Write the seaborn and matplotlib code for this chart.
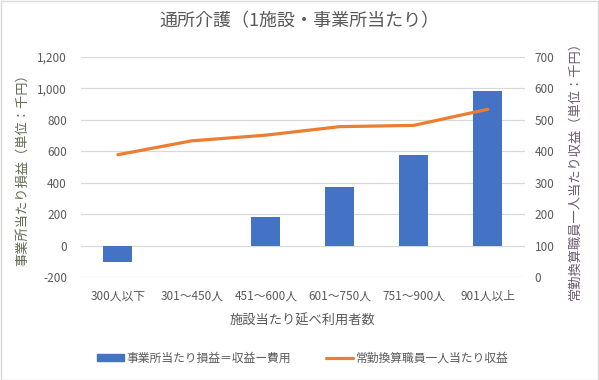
import matplotlib
matplotlib.use("Agg")
import matplotlib.pyplot as plt
import matplotlib.patches as mpatches
import matplotlib.lines as mlines
import pandas as pd
import seaborn as sns

# data
categories = ["300人以下", "301～450人", "451～600人", "601～750人", "751～900人", "901人以上"]
profit = [-100, 0, 185, 375, 578, 980]          # 事業所当たり損益（千円）
revenue_per_staff = [389, 433, 451, 478, 482, 533]  # 常勤換算職員一人当たり収益（千円）
left_ticks = [-200, 0, 200, 400, 600, 800, 1000, 1200]
right_ticks = [0, 100, 200, 300, 400, 500, 600, 700]

sns.set_theme(style="white")
plt.rcParams['font.family'] = ['Noto Sans CJK JP', 'DejaVu Sans']

BLUE = "#4472C4"
ORANGE = "#ED7D31"
GREY = "#595959"
GRID = "#d9d9d9"

df = pd.DataFrame({"cat": categories, "profit": profit, "rev": revenue_per_staff})

fig, ax = plt.subplots(figsize=(5.99, 3.80), dpi=100)
fig.subplots_adjust(left=0.135, right=0.876, top=0.851, bottom=0.270)

sns.barplot(data=df, x="cat", y="profit", color=BLUE, width=0.39, saturation=1,
            linewidth=0, ax=ax, zorder=3)
ax.set_ylim(-200, 1200)
ax.set_yticks(left_ticks)
ax.set_yticklabels([f"{v:,}" for v in left_ticks])
ax.set_xlim(-0.5, len(categories) - 0.5)
ax.grid(axis="y", color=GRID, lw=0.9, zorder=0)
ax.set_axisbelow(True)

ax2 = ax.twinx()
sns.lineplot(x=list(range(len(categories))), y=revenue_per_staff, color=ORANGE, lw=2.3, ax=ax2, zorder=4)
ax2.set_ylim(0, 700)
ax2.set_yticks(right_ticks)
ax2.set_xlim(-0.5, len(categories) - 0.5)

for a in (ax, ax2):
    for s in a.spines.values():
        s.set_visible(False)
    a.tick_params(axis="both", length=0, labelsize=8.5, colors=GREY, pad=7)

ax.tick_params(axis="x", pad=9)
ax.tick_params(axis="y", pad=10)
ax2.tick_params(axis="y", pad=7)

ax.set_xlabel("施設当たり延べ利用者数", color=GREY, fontsize=9.5, labelpad=8)
ax.set_ylabel("事業所当たり損益（単位：千円）", color="#5f6b4f", fontsize=9.5, labelpad=6)
ax2.set_ylabel("常勤換算職員一人当たり収益（単位：千円）", color="#6b5a6e", fontsize=9.5,
               labelpad=10, rotation=90)

fig.suptitle("通所介護（1施設・事業所当たり）", color=GREY, fontsize=13, y=0.968)

handles = [
    mpatches.Patch(color=BLUE, label="事業所当たり損益＝収益ー費用"),
    mlines.Line2D([], [], color=ORANGE, lw=2.3, label="常勤換算職員一人当たり収益"),
]
fig.legend(handles=handles, loc="center", bbox_to_anchor=(0.505, 0.058), ncol=2, frameon=False,
           fontsize=8.5, labelcolor=GREY, handlelength=2.3, handleheight=0.5,
           columnspacing=3.0, handletextpad=0.2)

fig.patches.append(mpatches.Rectangle((0.001, 0.001), 0.997, 0.997, transform=fig.transFigure,
                                      fill=False, edgecolor=GRID, lw=1))

fig.savefig("out.png", dpi=100)
